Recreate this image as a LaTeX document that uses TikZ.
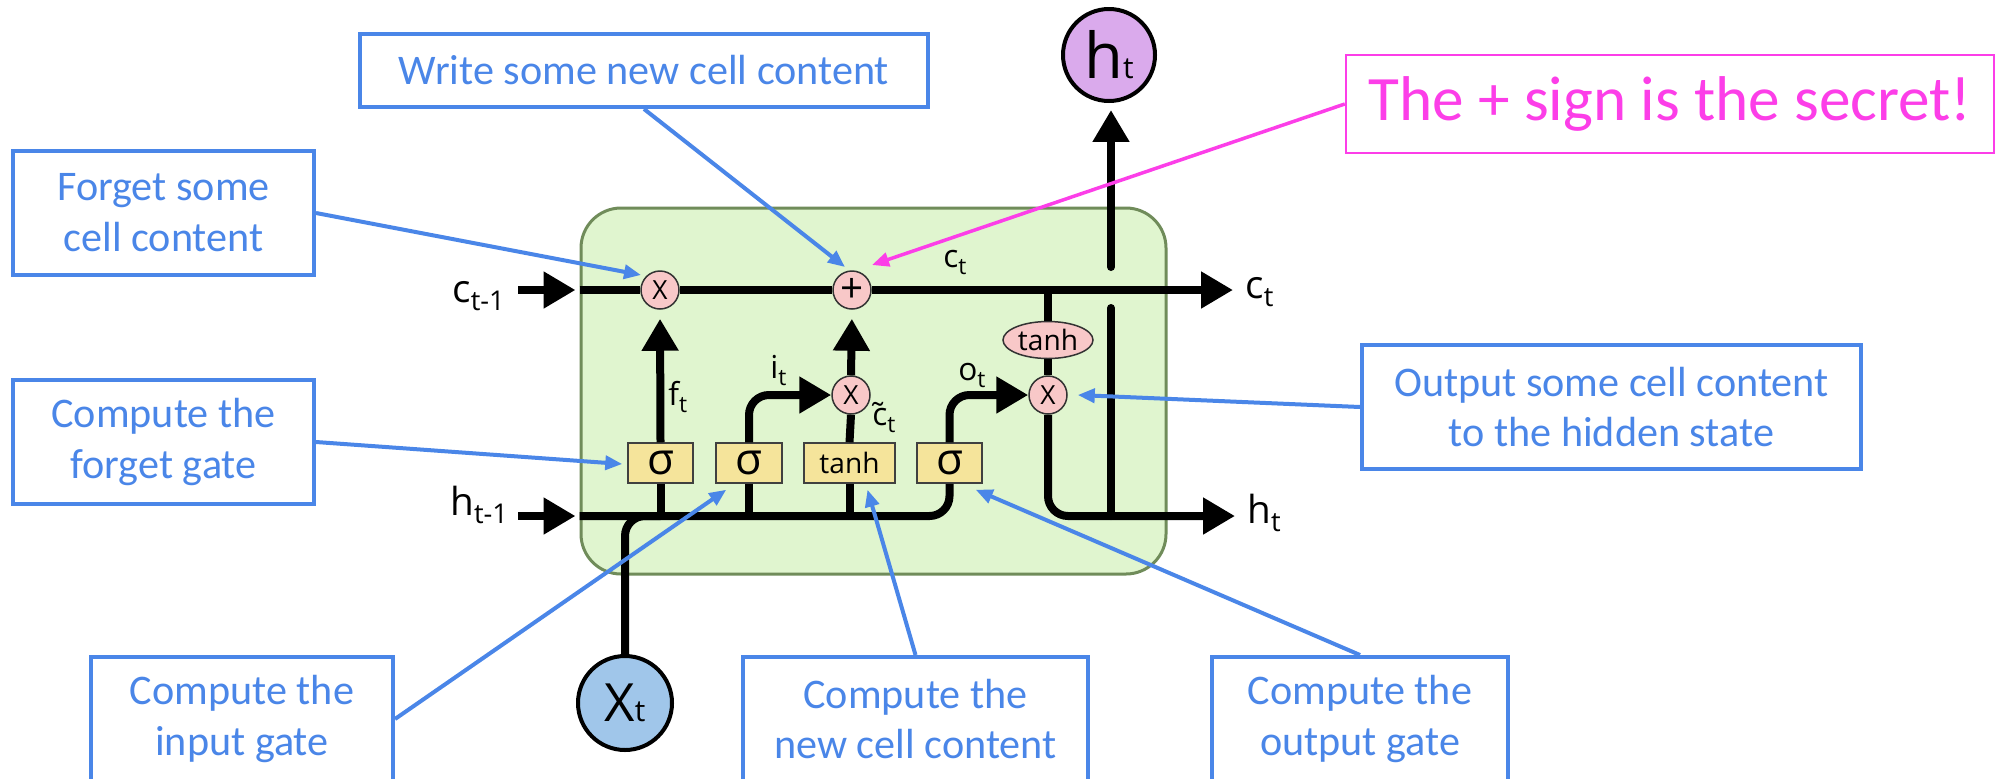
\documentclass[tikz,border=0pt]{standalone}
\usepackage{fontspec}
\usetikzlibrary{arrows.meta,calc,shapes.geometric}

\newfontfamily\notefamily{Carlito}
\newfontfamily\cellfamily{Open Sans}

% one drawing unit
\newcommand{\pxu}{0.02cm}

\definecolor{noteblue}{RGB}{74,134,232}
\definecolor{secretpink}{RGB}{252,62,232}
\definecolor{cellfill}{RGB}{224,245,207}
\definecolor{celledge}{RGB}{112,140,90}
\definecolor{opfill}{RGB}{248,200,200}
\definecolor{gatefill}{RGB}{245,228,155}
\definecolor{xfill}{RGB}{160,198,234}
\definecolor{hfill}{RGB}{218,170,236}

\newcommand{\notefont}{\notefamily\fontsize{24}{29}\selectfont}
\newcommand{\outerlab}[2]{{\cellfamily\fontsize{22}{22}\selectfont #1\raisebox{-0.16cm}{\fontsize{15.5}{15.5}\selectfont #2}}}
\newcommand{\innerlab}[2]{{\cellfamily\fontsize{18}{18}\selectfont #1\raisebox{-0.15cm}{\fontsize{13}{13}\selectfont #2}}}

\begin{document}
\begin{tikzpicture}[x=0.02cm,y=-0.02cm,
  cellbox/.style={draw=celledge, fill=cellfill, line width=0.06cm,
    rounded corners=0.8cm, minimum width=585*\pxu, minimum height=366*\pxu},
  opnode/.style={circle, draw=black!80, fill=opfill, line width=0.03cm,
    minimum size=38*\pxu, inner sep=0pt},
  gatebox/.style={rectangle, draw=black!75, fill=gatefill, line width=0.03cm,
    minimum height=40*\pxu, inner sep=0pt},
  sigmafont/.style={font=\cellfamily\fontsize{25}{25}\selectfont},
  tanhnode/.style={ellipse, draw=black!80, fill=opfill, line width=0.03cm,
    minimum width=90*\pxu, minimum height=37*\pxu, inner sep=0pt,
    font=\cellfamily\fontsize{16}{16}\selectfont},
  ionode/.style={circle, draw=black, line width=0.08cm, inner sep=0pt},
  lab/.style={inner sep=0pt, anchor=base west},
  flow/.style={line width=0.16cm, black},
  flowarrow/.style={flow, -{Triangle[length=0.64cm,width=0.7cm]}},
  note/.style={draw=noteblue, line width=0.08cm, text=noteblue, font=\notefont,
    align=center, inner sep=0pt},
  pointer/.style={draw=noteblue, line width=0.08cm,
    -{Triangle[length=0.34cm,width=0.28cm]}},
  secret/.style={draw=secretpink, line width=0.05cm, text=secretpink,
    font=\notefamily\fontsize{36}{40}\selectfont, inner sep=0pt},
  secretpointer/.style={draw=secretpink, line width=0.07cm,
    -{Triangle[length=0.34cm,width=0.28cm]}}]

\useasboundingbox (0,0) rectangle (1997,778);
\clip (0,0) rectangle (1997,778);
\fill[white] (0,0) rectangle (1997,778);

% the LSTM cell
\node[cellbox] (cell) at (873.5,391) {};

% pointwise operations
\node[opnode, font=\cellfamily\fontsize{15}{15}\selectfont] (fx) at (660,290) {X};
\node[opnode, font=\cellfamily\fontsize{23}{23}\selectfont] (pc) at (852,290) {+};
\node[opnode, font=\cellfamily\fontsize{15}{15}\selectfont] (ix) at (851,395) {X};
\node[opnode, font=\cellfamily\fontsize{15}{15}\selectfont] (ox) at (1048,395) {X};

% neural network layers
\node[gatebox, minimum width=65*\pxu, sigmafont] (s1) at (660.5,463) {σ};
\node[gatebox, minimum width=66*\pxu, sigmafont] (s2) at (749,463) {σ};
\node[gatebox, minimum width=91*\pxu, font=\cellfamily\fontsize{16}{16}\selectfont] (tb) at (849.5,463) {tanh};
\node[gatebox, minimum width=65*\pxu, sigmafont] (s3) at (949.5,463) {σ};
\node[tanhnode] (te) at (1048,340) {tanh};

% input and output
\node[ionode, fill=xfill, minimum size=94*\pxu] (xt) at (625,703)
  {\cellfamily{\fontsize{30}{30}\selectfont X}{\fontsize{17}{17}\selectfont t}};
\node[ionode, fill=hfill, minimum size=92*\pxu] (ht) at (1109,55)
  {\cellfamily{\fontsize{36}{36}\selectfont h}{\fontsize{17}{17}\selectfont t}};

% state labels
\node[lab] (cl) at (452,302) {\outerlab{c}{t-1}};
\node[lab] (hl) at (450,515) {\outerlab{h}{t-1}};
\node[lab] (cr) at (1245,298) {\outerlab{c}{t}};
\node[lab] (hr) at (1247,523) {\outerlab{h}{t}};
\node[lab] (ctl) at (943,267) {\innerlab{c}{t}};
\node[lab] (fl) at (668,405) {\innerlab{f}{t}};
\node[lab] (il) at (770,378) {\innerlab{i}{t}};
\node[lab] (ol) at (958,380) {\innerlab{o}{t}};
\node[lab] (ctil) at (872,425) {\innerlab{\~{c}}{t}};

% free ends of the state arrows
\coordinate (cstart) at (518,290);
\coordinate (hstart) at (518,516);
\coordinate (cend) at (1233,290);
\coordinate (hend) at (1235,516);
\coordinate (hgapB) at (1111,308);
\coordinate (hgapT) at (1111,267);

% cell state line
\draw[flowarrow, shorten >=0.08cm] (cstart) -- (cell.west |- fx);
\draw[flow] (cell.west |- fx) -- (fx.west);
\draw[flow] (fx.east) -- (pc.west);
\draw[flowarrow] (pc.east) -- (cend);

% gates into the cell state
\draw[flowarrow, shorten >=0.18cm] (s1.north) -- (fx.south);
\draw[flowarrow, shorten >=0.18cm] (ix.north) -- (pc.south);
\draw[flow] (tb.north) -- (ix.south);
\draw[flowarrow, rounded corners=0.4cm] (s2.north) |- (ix.west);
\draw[flowarrow, rounded corners=0.4cm] (s3.north) |- (ox.west);

% hidden state and input
\draw[flowarrow, shorten >=0.08cm] (hstart) -- (cell.west |- hend);
\draw[flow, rounded corners=0.4cm] (cell.west |- hend) -| (s3.south);
\draw[flow, rounded corners=0.4cm] (xt.north) |- (s1.south |- hend);
\draw[flow] (s1.south) -- (s1.south |- hend);
\draw[flow] (s2.south) -- (s2.south |- hend);
\draw[flow] (tb.south) -- (tb.south |- hend);

% output path
\draw[flow] (te.north) -- (te.north |- fx);
\draw[flow] (te.south) -- (ox.north);
\draw[flowarrow, rounded corners=0.4cm] (ox.south) |- (hend);
\draw[flow, line cap=round] (hgapB |- hend) -- (hgapB);
\draw[flowarrow, line cap=round, shorten >=0.14cm] (hgapT) -- (hgapT |- ht.south);

% annotations
\node[note, minimum width=568*\pxu, minimum height=73*\pxu] (wb) at (644,70.5) {Write some new cell content};
\node[note, minimum width=301*\pxu, minimum height=124*\pxu] (fb) at (163.5,213) {Forget some\\cell content};
\node[note, minimum width=301*\pxu, minimum height=124*\pxu] (fg) at (163.5,442) {Compute the\\forget gate};
\node[note, minimum width=302*\pxu, minimum height=124*\pxu] (ig) at (242,719) {Compute the\\input gate};
\node[note, minimum width=345*\pxu, minimum height=124*\pxu] (nc) at (915.5,719) {Compute the\\new cell content};
\node[note, minimum width=296*\pxu, minimum height=124*\pxu] (og) at (1360,719) {Compute the\\output gate};
\node[note, minimum width=499*\pxu, minimum height=124*\pxu] (oc) at (1611.5,407) {Output some cell content\\to the hidden state};
\node[secret, minimum width=648*\pxu, minimum height=98*\pxu] (mg) at (1670,104) {The + sign is the secret!};

\draw[pointer] (fb.east) -- ($(fx.center)+(-19,-15)$);
\draw[pointer] (wb.south) -- ($(pc.center)+(-7,-23)$);
\draw[pointer] (fg.east) -- ($(s1.west)+(-5,1)$);
\draw[pointer] (ig.east) -- ($(s2.south west)+(11,6)$);
\draw[pointer] (nc.north) -- ($(tb.south)+(18,6)$);
\draw[pointer] (og.north) -- ($(s3.south east)+(-7,6)$);
\draw[pointer] (oc.west) -- ($(ox.east)+(10,0)$);
\draw[secretpointer] (mg.west) -- ($(pc.center)+(20,-25)$);

\end{tikzpicture}
\end{document}
